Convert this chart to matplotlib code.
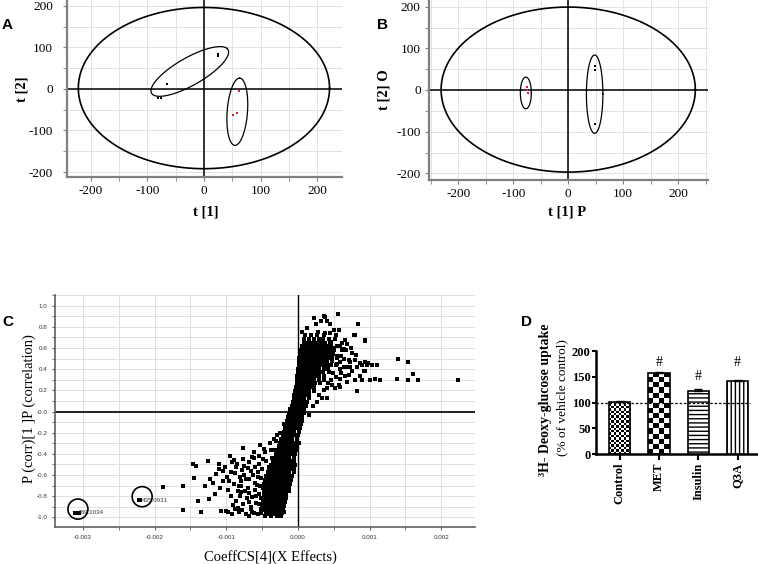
import numpy as np
import matplotlib.pyplot as plt
from matplotlib.patches import Ellipse
from matplotlib.ticker import MultipleLocator, FixedLocator

plt.rcParams['font.family'] = ['Liberation Serif', 'DejaVu Serif']
plt.rcParams['axes.unicode_minus'] = False
plt.rcParams['hatch.linewidth'] = 1.0

W, H = 758, 564

# ---------------- data ----------------
# panel A (PCA scores)
a_black_x = [24, 25, -66, -82, -76]
a_black_y = [79, 85, 12, -21, -21]
a_red_x = [62, 58, 52]
a_red_y = [-6, -57, -62]
# confidence ellipses: (cx, cy, semi axis a, semi axis b, angle of a in deg)
a_ellipses = [(0, 2, 222, 194, 0), (-25, 42, 86, 30, 40), (59, -55, 81, 18, 87)]

# panel B (OPLS-DA scores)
b_black_x = [48, 48, 48]
b_black_y = [58, 49, -82]
b_red_x = [-75, -75, -74]
b_red_y = [7, 1, -8]
b_ellipses = [(0, 1, 231, 198, 0), (-77, -7, 10, 38, 0), (48, -10, 15, 94, 0)]

# panel C (S-plot), x in units of 1e-4
c_core_y = [0.72, 0.685, 0.65, 0.615, 0.58, 0.545, 0.51, 0.475, 0.44, 0.405, 0.37,
            0.335, 0.30, 0.265, 0.23, 0.195, 0.16, 0.125, 0.09, 0.055, 0.02, -0.015,
            -0.05, -0.085, -0.12, -0.155, -0.19, -0.225, -0.26, -0.295, -0.33, -0.365,
            -0.40, -0.435, -0.47, -0.505, -0.54, -0.575, -0.61, -0.645, -0.68, -0.715,
            -0.75, -0.785, -0.82, -0.855, -0.89, -0.925, -0.96, -0.99]
c_core_x = [
    [1.0, 1.8, 2.7, 3.6],
    [0.9, 1.5, 2.2, 2.9, 3.5, 4.3],
    [0.8, 1.3, 1.8, 2.3, 2.8, 3.3, 3.8, 4.4],
    [0.6, 1.1, 1.6, 2.1, 2.6, 3.1, 3.6, 4.1, 4.6],
    [0.4, 0.9, 1.4, 1.9, 2.4, 2.9, 3.4, 3.9, 4.4, 5.0],
    [0.3, 0.8, 1.3, 1.8, 2.3, 2.8, 3.3, 3.8, 4.3, 4.9],
    [0.2, 0.7, 1.2, 1.7, 2.2, 2.7, 3.2, 3.7, 4.2, 4.8, 5.5],
    [0.1, 0.6, 1.1, 1.6, 2.1, 2.6, 3.1, 3.6, 4.1, 4.7],
    [0.1, 0.5, 1.0, 1.5, 2.0, 2.5, 3.0, 3.5, 4.0, 4.6, 5.3],
    [0.0, 0.5, 1.0, 1.5, 2.0, 2.5, 3.0, 3.6, 4.2],
    [0.0, 0.4, 0.9, 1.4, 1.9, 2.4, 2.9, 3.5, 4.3],
    [-0.1, 0.4, 0.9, 1.4, 1.9, 2.4, 3.0, 3.7],
    [-0.1, 0.3, 0.8, 1.3, 1.8, 2.3, 2.9, 3.6],
    [-0.2, 0.3, 0.8, 1.3, 1.8, 2.4, 3.1],
    [-0.3, 0.2, 0.7, 1.2, 1.7, 2.3],
    [-0.4, 0.1, 0.6, 1.1, 1.6, 2.2],
    [-0.5, 0.0, 0.5, 1.0, 1.5],
    [-0.6, -0.1, 0.4, 0.9, 1.5],
    [-0.7, -0.2, 0.3, 0.8, 1.3],
    [-0.9, -0.4, 0.1, 0.6, 1.1],
    [-1.1, -0.6, -0.1, 0.4, 0.9],
    [-1.2, -0.7, -0.2, 0.3, 0.8],
    [-1.3, -0.8, -0.3, 0.2, 0.6],
    [-1.5, -1.0, -0.5, 0.0, 0.5],
    [-1.6, -1.1, -0.6, -0.1, 0.4],
    [-1.8, -1.3, -0.8, -0.3, 0.3],
    [-2.0, -1.5, -1.0, -0.5, 0.1],
    [-2.1, -1.6, -1.1, -0.6, 0.0],
    [-2.3, -1.8, -1.3, -0.8, -0.2],
    [-2.5, -2.0, -1.5, -1.0, -0.4, 0.1],
    [-2.6, -2.1, -1.6, -1.1, -0.6, -0.1],
    [-2.8, -2.3, -1.8, -1.3, -0.8, -0.3],
    [-3.0, -2.5, -2.0, -1.5, -1.0, -0.4],
    [-3.2, -2.7, -2.2, -1.7, -1.2, -0.6],
    [-3.5, -3.0, -2.5, -2.0, -1.5, -1.0, -0.5],
    [-3.8, -3.3, -2.8, -2.3, -1.8, -1.3, -0.8, -0.4],
    [-4.0, -3.5, -3.0, -2.5, -2.0, -1.5, -1.0, -0.5],
    [-4.2, -3.7, -3.2, -2.7, -2.2, -1.7, -1.2, -0.6],
    [-4.4, -3.9, -3.4, -2.9, -2.4, -1.9, -1.4, -0.8],
    [-4.6, -4.1, -3.6, -3.1, -2.6, -2.1, -1.6, -1.0],
    [-4.7, -4.2, -3.7, -3.2, -2.7, -2.2, -1.7, -1.1],
    [-4.8, -4.3, -3.8, -3.3, -2.8, -2.3, -1.8, -1.2],
    [-4.8, -4.3, -3.8, -3.3, -2.8, -2.3, -1.8, -1.3],
    [-4.7, -4.2, -3.7, -3.2, -2.7, -2.2, -1.7],
    [-4.6, -4.1, -3.6, -3.1, -2.6, -2.1, -1.7],
    [-4.9, -4.3, -3.8, -3.3, -2.8, -2.3, -1.8],
    [-5.0, -4.4, -3.9, -3.4, -2.9, -2.4, -1.9],
    [-4.8, -4.2, -3.6, -3.1, -2.6, -2.1],
    [-5.2, -4.5, -3.8, -3.2, -2.7, -2.2],
    [-4.6, -3.7, -2.9, -2.3],
]
c_scatter_x = [2.18, 2.55, 3.2, 3.58, 3.8, 4.04, 4.5, 5.53, 4.97, 5.67, 4.5, 3.8, 2.74, 1.81,
               6.13, 6.6, 6.13, 5.43, 8.31, 7.89, 9.38, 6.6, 8.13, 11.0, 13.9, 15.4, 9.4, 9.6,
               9.16, 8.2, 10.8, 11.5, 13.8, 15.4, 16.1, 16.7, 22.3, 8.2, 7.99, 8.9, 7.06, 6.8,
               5.9, 7.06, 6.36, 6.74, 7.44, 7.9, 8.69, 9.71, 8.97, 9.39, 9.39, 7.85, 7.3, 6.36,
               6.6, 5.9, 6.83, 5.67, 4.04, 3.34, 4.04, 5.81, 5.2, 5.0, 5.4, 5.8, 4.9, 4.6, 4.2,
               3.6, 2.9, 2.6, 2.1, 1.6, 5.1, 4.6, 0.5, 1.2, 6.0, 5.5, 6.4, 7.6, 10.3,
               5.9, 5.3, 6.8, 7.2, 6.0, 5.3, 4.8, 7.6, 8.6, 10.0,
               -30.5, -22.1, -18.9, -16.0, -16.1, -14.7, -14.2, -14.5, -13.9, -13.5, -12.99,
               -12.6, -12.4, -12.3, -11.8, -11.5, -11.07, -11.07, -10.8, -10.5, -10.1, -9.77,
               -9.53, -9.3, -9.2, -8.96, -8.73, -8.5, -8.4, -8.13, -8.13, -7.95, -7.8, -7.67,
               -7.35, -7.02, -6.9, -6.55, -6.4, -6.2, -6.2, -5.95, -5.5, -5.25, -5.0, -4.8,
               -4.55, -4.34, -3.96, -3.66, -3.66, -3.2, -2.94, -2.56, -2.24, -2.0, -3.96, -4.8,
               -3.4, -2.5, -2.1, -9.2, -6.4, -7.58, -8.8, -8.0, -7.5, -7.0, -6.6, -6.0, -5.6,
               -5.3, -5.8, -6.9, -7.6, -8.6, -9.8, -10.4, -9.9, -5.5, -5.2, -4.7, -6.4, -7.3,
               -8.2, -4.9, -4.1, -3.1, -1.9, -1.4,
               -8.7, -8.2, -7.8, -7.2, -6.8, -6.3, -6.0, -5.7, -5.4, -5.9, -6.6, -7.1, -7.9,
               -8.9, -9.4, -9.0, -8.4, -7.7, -6.8, -5.6, -5.2, -4.9, -5.1, -4.6, -5.6, -6.9,
               -4.3, -4.5, -10.2, -10.9, -11.6, -9.6, -6.1, -5.4, -4.4, -3.4, -2.9, -3.8]
c_scatter_y = [0.88, 0.826, 0.855, 0.90, 0.89, 0.857, 0.826, 0.92, 0.77, 0.77, 0.74, 0.74, 0.755,
               0.72, 0.58, 0.675, 0.643, 0.617, 0.83, 0.726, 0.668, 0.58, 0.533, 0.438, 0.496,
               0.47, 0.47, 0.437, 0.385, 0.42, 0.31, 0.30, 0.31, 0.297, 0.353, 0.297, 0.297,
               0.19, 0.297, 0.30, 0.343, 0.42, 0.47, 0.486, 0.586, 0.58, 0.602, 0.486, 0.46,
               0.46, 0.438, 0.384, 0.675, 0.722, 0.422, 0.422, 0.334, 0.303, 0.28, 0.249, 0.218,
               0.132, 0.132, 0.227, 0.218, 0.60, 0.52, 0.40, 0.36, 0.30, 0.27, 0.20, 0.16, 0.09,
               0.05, -0.03, 0.68, 0.66, 0.75, 0.79, 0.52, 0.45, 0.50, 0.55, 0.44,
               0.62, 0.72, 0.64, 0.47, 0.36, 0.33, 0.25, 0.38, 0.34, 0.30,
               -0.956, -0.839, -0.713, -0.707, -0.927, -0.50, -0.51, -0.63, -0.84, -0.95, -0.70,
               -0.47, -0.83, -0.64, -0.67, -0.594, -0.50, -0.54, -0.94, -0.56, -0.94, -0.95,
               -0.42, -0.57, -0.97, -0.46, -0.92, -0.50, -0.75, -0.80, -0.62, -0.70, -0.93,
               -0.343, -0.75, -0.53, -0.64, -0.90, -0.81, -0.96, -0.44, -0.67, -0.87, -0.32,
               -0.54, -0.77, -0.38, -0.97, -0.59, -0.44, -0.84, -0.97, -0.68, -0.35, -0.87,
               -0.95, -0.293, -0.35, -0.366, -0.20, -0.20, -0.476, -0.43, -0.51, -0.58, -0.66,
               -0.60, -0.72, -0.56, -0.74, -0.62, -0.70, -0.80, -0.85, -0.87, -0.84, -0.74,
               -0.66, -0.62, -0.50, -0.92, -0.88, -0.95, -0.97, -0.95, -0.45, -0.52, -0.28,
               -0.12, -0.05,
               -0.52, -0.70, -0.55, -0.64, -0.77, -0.60, -0.52, -0.69, -0.78, -0.86, -0.92,
               -0.82, -0.76, -0.68, -0.80, -0.88, -0.91, -0.45, -0.48, -0.57, -0.63, -0.72,
               -0.82, -0.93, -0.97, -0.99, -0.64, -0.80, -0.52, -0.72, -0.78, -0.66, -0.38,
               -0.42, -0.47, -0.26, -0.22, -0.36]
c_marked_x = [-31.1, -22.14]
c_marked_y = [-0.956, -0.839]
c_marked_names = ['469.1034', '435.0931']
c_xticks = [-0.003, -0.002, -0.001, 0.0, 0.001, 0.002]
c_xticklabels = ['-0.003', '-0.002', '-0.001', '0.000', '0.001', '0.002']
c_yticks = [-1.0, -0.8, -0.6, -0.4, -0.2, 0.0, 0.2, 0.4, 0.6, 0.8, 1.0]
c_yticklabels = ['-1.0', '-0.8', '-0.6', '-0.4', '-0.2', '-0.0', '0.2', '0.4', '0.6', '0.8', '1.0']

# panel D (glucose uptake)
d_groups = ['Control', 'MET', 'Insulin', 'Q3A']
d_values = [101, 157, 123, 141]
d_errors = [3, 2.5, 3, 3]
d_sig = ['', '#', '#', '#']
d_sig_y = [0, 178, 150, 178]


# ---------------- helpers ----------------
def px_axes(fig, left, top, right, bottom):
    return fig.add_axes([left / W, 1 - bottom / H, (right - left) / W, (bottom - top) / H])


def ftext(fig, x, y, s, **kw):
    fig.text(x / W, 1 - y / H, s, ha='center', va='center', **kw)


def draw_ellipse(ax, cx, cy, a, b, ang, lw):
    t = np.linspace(0, 2 * np.pi, 400)
    th = np.radians(ang)
    x = cx + a * np.cos(t) * np.cos(th) - b * np.sin(t) * np.sin(th)
    y = cy + a * np.cos(t) * np.sin(th) + b * np.sin(t) * np.cos(th)
    ax.plot(x, y, color='black', lw=lw, zorder=3)


def score_axes(ax, xlim, ylim, ypad):
    ax.set_xlim(xlim)
    ax.set_ylim(ylim)
    for axis in (ax.xaxis, ax.yaxis):
        axis.set_major_locator(MultipleLocator(100))
        axis.set_minor_locator(MultipleLocator(50))
    ax.grid(which='both', color='#e2e2e2', lw=0.7)
    ax.set_axisbelow(True)
    ax.axhline(0, color='black', lw=1.1, zorder=2)
    ax.axvline(0, color='black', lw=1.1, zorder=2)
    for s in ['top', 'right']:
        ax.spines[s].set_visible(False)
    for s in ['left', 'bottom']:
        ax.spines[s].set_color('#808080')
        ax.spines[s].set_linewidth(1.6)
    ax.tick_params(which='both', direction='out', length=3, color='#808080', labelsize=9.5)
    ax.tick_params(axis='y', pad=ypad)
    ax.tick_params(axis='x', pad=3)


fig = plt.figure(figsize=(W / 100, H / 100), dpi=100)

# ---------------- A ----------------
axA = px_axes(fig, 67, 0, 342, 177)
score_axes(axA, (-242, 244), (-212, 214), 7)
for e in a_ellipses:
    draw_ellipse(axA, *e, lw=1.2 if e[2] > 200 else 0.9)
axA.scatter(a_black_x, a_black_y, marker='s', s=3.5, color='black', lw=0, zorder=4)
axA.scatter(a_red_x, a_red_y, marker='s', s=3.5, color='#d42030', lw=0, zorder=4)

# ---------------- B ----------------
axB = px_axes(fig, 429, 0, 708, 180)
score_axes(axB, (-253, 254), (-216, 216), 3)
for e in b_ellipses:
    draw_ellipse(axB, *e, lw=1.2 if e[2] > 200 else 0.9)
axB.scatter(b_black_x, b_black_y, marker='s', s=4, color='black', lw=0, zorder=4)
axB.scatter(b_red_x, b_red_y, marker='s', s=4, color='#d42030', lw=0, zorder=4)

bold = dict(weight='bold', size=10.5)
ftext(fig, 22, 89, 't [2]', rotation=90, **bold)
ftext(fig, 206, 212, 't [1]', **bold)
ftext(fig, 384, 90, 't [2] O', rotation=90, **bold)
ftext(fig, 567, 212, 't [1] P', **bold)

# ---------------- C ----------------
axC = px_axes(fig, 55, 295, 475, 527)
core_x = [x for row in c_core_x for x in row]
core_y = [y for y, row in zip(c_core_y, c_core_x) for _ in row]
axC.scatter(np.array(core_x) * 1e-4, core_y, marker='s', s=8, color='black', lw=0, zorder=4)
axC.scatter(np.array(c_scatter_x) * 1e-4, c_scatter_y, marker='s', s=7, color='black', lw=0, zorder=4)
axC.scatter(np.array(c_marked_x) * 1e-4, c_marked_y, marker='s', s=7, color='black', lw=0, zorder=4)
for x, y, name in zip(c_marked_x, c_marked_y, c_marked_names):
    axC.text(x * 1e-4 + 0.00004, y, name, family='Liberation Sans', size=4.5,
             color='#333333', va='center', ha='left', zorder=5)
    axC.add_patch(Ellipse((x * 1e-4 + 0.00004, y + 0.035), 0.000279, 0.19,
                          fill=False, ec='black', lw=1.2, zorder=5))
axC.set_xlim(-0.00339, 0.00247)
axC.set_ylim(-1.09, 1.1)
axC.xaxis.set_major_locator(FixedLocator(c_xticks))
axC.set_xticklabels(c_xticklabels)
axC.xaxis.set_minor_locator(MultipleLocator(0.0005))
axC.yaxis.set_major_locator(FixedLocator(c_yticks))
axC.set_yticklabels(c_yticklabels)
axC.yaxis.set_minor_locator(MultipleLocator(0.1))
axC.grid(which='both', color='#e0e0e0', lw=0.7)
axC.set_axisbelow(True)
axC.axhline(0, color='black', lw=1.2, zorder=2)
axC.axvline(0, color='black', lw=1.0, zorder=2)
for s in ['top', 'right']:
    axC.spines[s].set_visible(False)
for s in ['left', 'bottom']:
    axC.spines[s].set_color('#606060')
    axC.spines[s].set_linewidth(1.2)
axC.tick_params(which='both', direction='out', length=2.5, color='#606060',
                labelsize=4.5, labelcolor='#333333', pad=3)
for lab in axC.get_xticklabels() + axC.get_yticklabels():
    lab.set_family('Liberation Sans')
ftext(fig, 29, 409, 'P (corr)[1 ]P (correlation)', rotation=90, size=10.5)
ftext(fig, 270, 557, 'CoeffCS[4](X Effects)', size=10.5)

# ---------------- D ----------------
axD = px_axes(fig, 596, 351, 757, 454.3)
pos = np.arange(len(d_groups))
bars = axD.bar(pos, d_values, width=0.54, color='white', edgecolor='black', lw=1.2, zorder=3)
axD.errorbar(pos, d_values, yerr=[[0] * len(d_errors), d_errors], fmt='none',
             ecolor='black', elinewidth=1.0, capsize=3, capthick=1.0, zorder=4)
axD.set_xlim(-0.6, 3.49)
axD.set_ylim(0, 200)
bars[2].set_hatch('----')
bars[3].set_hatch('||||')
# checkerboard fills for Control (fine) and MET (coarse)
for bar, cell in ((bars[0], 2.4), (bars[1], 5.0)):
    bar.set_facecolor('none')
    x0, y0 = bar.get_x(), 0
    x1, y1 = x0 + bar.get_width(), bar.get_height()
    p0 = axD.transData.transform((x0, y0))
    p1 = axD.transData.transform((x1, y1))
    nx = max(1, int(round((p1[0] - p0[0]) / cell)))
    ny = max(1, int(round((p1[1] - p0[1]) / cell)))
    board = np.add.outer(np.arange(ny), np.arange(nx)) % 2
    im = axD.imshow(board, cmap='gray', extent=[x0, x1, y0, y1], origin='lower',
                    aspect='auto', interpolation='nearest', zorder=2.5)
    im.set_clip_path(bar)
axD.set_xlim(-0.6, 3.49)
axD.set_ylim(0, 200)
axD.hlines(100, -0.6, 3.3, colors='black', linestyles=(0, (2, 1.5)), lw=0.9, zorder=5)
for x, s, y in zip(pos, d_sig, d_sig_y):
    if s:
        axD.text(x, y, s, ha='center', va='center', size=10)
axD.set_xticks(pos)
axD.set_xticklabels(d_groups, rotation=90, weight='bold', size=10)
axD.yaxis.set_major_locator(MultipleLocator(50))
for lab in axD.get_yticklabels():
    lab.set_weight('bold')
for s in ['top', 'right']:
    axD.spines[s].set_visible(False)
for s in ['left', 'bottom']:
    axD.spines[s].set_linewidth(1.8)
axD.tick_params(direction='out', length=3, width=1.5, labelsize=9, pad=0.8)
axD.tick_params(axis='x', length=4, pad=2)
ftext(fig, 545, 400, '³H- Deoxy-glucose uptake', rotation=90, weight='bold', size=10)
ftext(fig, 562, 398, '(% of vehicle control)', rotation=90, size=9.5)

# panel letters
for x, y, s in ((7, 25, 'A'), (383, 25, 'B'), (8, 322, 'C'), (526, 322, 'D')):
    ftext(fig, x, y, s, family='Liberation Sans', weight='bold', size=11)

fig.savefig('out.png', dpi=100)
